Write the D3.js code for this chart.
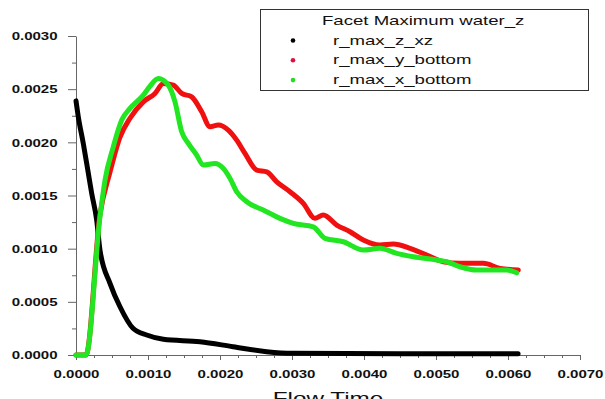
<!DOCTYPE html>
<html>
<head>
<meta charset="utf-8">
<script src="https://cdn.jsdelivr.net/npm/d3@7"></script>
<style>
  body { margin: 0; background: #fff; }
  text { font-family: "Liberation Sans", Arial, sans-serif; fill: #111; }
</style>
</head>
<body>
<div id="chart"></div>
<script>
// Flow time (s) and facet maximum water_z values
const timeZ = [0, 0.000032, 0.000101, 0.000171, 0.000218, 0.000287, 0.000333, 0.000472, 0.000611, 0.000792, 0.000982, 0.001213, 0.001722, 0.002181, 0.002649, 0.003014, 0.0045, 0.00614];
const valZ  = [0.00239, 0.00224, 0.00199, 0.00171, 0.00152, 0.00127, 0.000987, 0.000674, 0.000454, 0.000251, 0.000188, 0.000148, 0.000125, 0.000078, 0.000031, 0.000016, 0.000012, 0.000012];

const timeY = [0, 0.000139, 0.000333, 0.000472, 0.000611, 0.00075, 0.000935, 0.001097, 0.001213, 0.001351, 0.001468, 0.001607, 0.001746, 0.001861, 0.001976, 0.002115, 0.002232, 0.002347, 0.00251, 0.002649, 0.002788, 0.002972, 0.003157, 0.003319, 0.003435, 0.003621, 0.003806, 0.00399, 0.004222, 0.004407, 0.004639, 0.004871, 0.005101, 0.005333, 0.005657, 0.005889, 0.006143];
const valY  = [0, 0, 0.00132, 0.00172, 0.002049, 0.002227, 0.002381, 0.00246, 0.002554, 0.002538, 0.00246, 0.002428, 0.002287, 0.002146, 0.002162, 0.002115, 0.002021, 0.001896, 0.001739, 0.001723, 0.001629, 0.001535, 0.001426, 0.001285, 0.001316, 0.001222, 0.001159, 0.001081, 0.001034, 0.001043, 0.001003, 0.00094, 0.000877, 0.000862, 0.000862, 0.000815, 0.000799];

const timeX = [0, 0.000139, 0.000333, 0.000403, 0.000518, 0.000635, 0.00075, 0.000935, 0.001028, 0.001143, 0.001282, 0.001375, 0.001468, 0.00156, 0.001676, 0.001768, 0.001931, 0.002046, 0.002139, 0.002232, 0.002371, 0.002601, 0.002833, 0.003018, 0.003296, 0.003458, 0.003713, 0.00399, 0.004222, 0.004454, 0.004685, 0.00501, 0.005149, 0.005333, 0.005565, 0.005796, 0.005982, 0.006121];
const valX  = [0, 0, 0.0013, 0.001645, 0.001958, 0.002209, 0.002319, 0.002444, 0.002528, 0.0026, 0.002538, 0.002381, 0.002099, 0.00199, 0.00188, 0.001786, 0.001802, 0.001755, 0.001661, 0.001535, 0.001441, 0.001363, 0.001285, 0.001238, 0.001206, 0.001097, 0.001065, 0.000987, 0.001003, 0.000956, 0.000924, 0.000893, 0.000877, 0.00083, 0.000799, 0.000799, 0.000799, 0.000773];

const seriesNames = ["r_max_z_xz", "r_max_y_bottom", "r_max_x_bottom"];
const xTicks = [0, 0.001, 0.002, 0.003, 0.004, 0.005, 0.006, 0.007];
const yTicks = [0, 0.0005, 0.001, 0.0015, 0.002, 0.0025, 0.003];

const width = 605, height = 399;
const sx = 1.43; // the picture's text is stretched horizontally

const svg = d3.select("#chart").append("svg")
    .attr("width", width).attr("height", height);

const x = d3.scaleLinear().domain([0, 0.007]).range([76, 580]);
const y = d3.scaleLinear().domain([0, 0.003]).range([355, 36]);

const series = [
    {name: seriesNames[0], t: timeZ, v: valZ, color: "#000000", dot: "#000000"},
    {name: seriesNames[1], t: timeY, v: valY, color: "#f01010", dot: "#e0103c"},
    {name: seriesNames[2], t: timeX, v: valX, color: "#22e622", dot: "#22dd22"}
];

// minor ticks
const yMinor = d3.range(0.00025, 0.003, 0.0005);
const xMinor = d3.range(0, 0.007, 0.00025).filter(d => Math.abs(d / 0.001 - Math.round(d / 0.001)) > 0.01);

svg.append("g")
    .attr("transform", `translate(${x(0)},0)`)
    .call(d3.axisLeft(y).tickValues(yMinor).tickSize(4).tickSizeOuter(0).tickFormat(""))
    .call(g => g.select(".domain").remove())
    .call(g => g.selectAll("line").attr("stroke", "#666"));

svg.append("g")
    .attr("transform", `translate(0,${y(0)})`)
    .call(d3.axisBottom(x).tickValues(xMinor).tickSize(3).tickSizeOuter(0).tickFormat(""))
    .call(g => g.select(".domain").remove())
    .call(g => g.selectAll("line").attr("stroke", "#666"));

// major axes
svg.append("g")
    .attr("transform", `translate(${x(0)},0)`)
    .call(d3.axisLeft(y).tickValues(yTicks).tickSize(8).tickSizeOuter(0).tickFormat(d3.format(".4f")))
    .call(g => g.select(".domain").attr("stroke", "#666"))
    .call(g => g.selectAll("line").attr("stroke", "#666"))
    .call(g => g.selectAll("text")
        .attr("x", -18.5 / sx)
        .attr("dy", "0.36em")
        .attr("transform", `scale(${sx},1)`)
        .style("font-size", "10.5px")
        .style("font-weight", "bold")
        .style("font-family", "Liberation Sans, Arial, sans-serif")
        .attr("fill", "#111"));

svg.append("g")
    .attr("transform", `translate(0,${y(0)})`)
    .call(d3.axisBottom(x).tickValues(xTicks).tickSize(5).tickSizeOuter(0).tickFormat(d3.format(".4f")))
    .call(g => g.select(".domain").attr("stroke", "#666"))
    .call(g => g.selectAll("line").attr("stroke", "#666"))
    .call(g => g.selectAll("text")
        .attr("y", 23)
        .attr("dy", null)
        .attr("transform", `scale(${sx},1)`)
        .style("font-size", "10.5px")
        .style("font-weight", "bold")
        .style("font-family", "Liberation Sans, Arial, sans-serif")
        .attr("fill", "#111"));

// axis title (cut off at bottom like the original)
svg.append("text")
    .attr("text-anchor", "middle")
    .attr("transform", `translate(${(x(0) + x(0.007)) / 2},404) scale(${sx},1)`)
    .style("font-size", "17px")
    .text("Flow Time");

// lines
const line = d3.line()
    .x(d => x(d[0]))
    .y(d => y(d[1]))
    .curve(d3.curveMonotoneX);

series.forEach(s => {
    const pts = s.t.map((t, i) => [t, s.v[i]]);
    svg.append("path")
        .datum(pts)
        .attr("d", line)
        .attr("fill", "none")
        .attr("stroke", s.color)
        .attr("stroke-width", 5)
        .attr("stroke-linejoin", "round")
        .attr("stroke-linecap", "round");
});

// legend
const legend = svg.append("g");
legend.append("rect")
    .attr("x", 260.5).attr("y", 9.5)
    .attr("width", 328).attr("height", 81)
    .attr("fill", "#fff").attr("stroke", "#333");
legend.append("text")
    .attr("transform", `translate(322,25) scale(${sx},1)`)
    .style("font-size", "13px")
    .text("Facet Maximum water_z");

series.forEach((s, i) => {
    legend.append("circle")
        .attr("cx", 293).attr("cy", 40.5 + i * 19.8)
        .attr("r", 2.3)
        .attr("fill", s.dot);
    legend.append("text")
        .attr("transform", `translate(333,${44.5 + i * 19.8}) scale(${sx},1)`)
        .style("font-size", "13px")
        .text(s.name);
});
</script>
</body>
</html>
